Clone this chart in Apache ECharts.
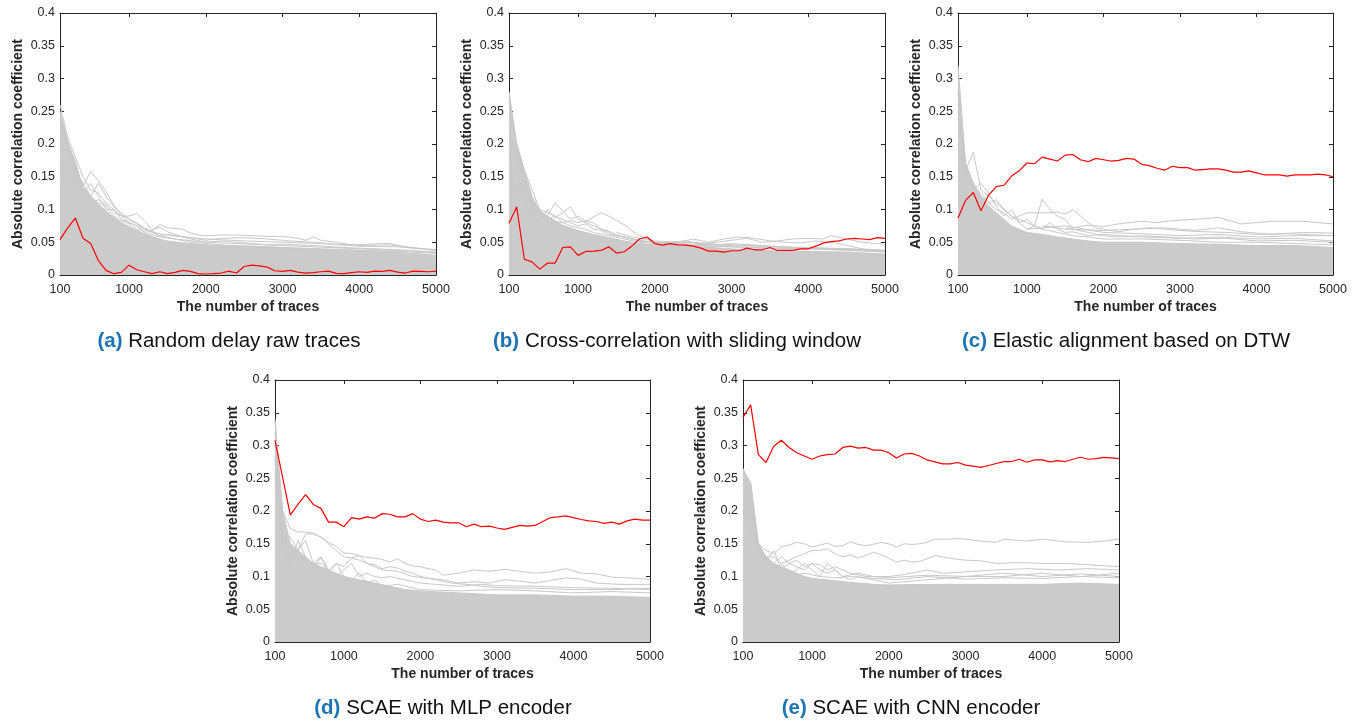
<!DOCTYPE html>
<html>
<head>
<meta charset="utf-8">
<script src="https://cdn.jsdelivr.net/npm/echarts@6/dist/echarts.min.js"></script>
<style>html,body{margin:0;padding:0;background:#fff}#c{width:1361px;height:720px}</style>
</head>
<body>
<div id="c"></div>
<script>
// ---------- data ----------
const traces = [100,200,300,400,500,600,700,800,900,1000,1100,1200,1300,1400,1500,1600,1700,1800,1900,2000,
  2100,2200,2300,2400,2500,2600,2700,2800,2900,3000,3100,3200,3300,3400,3500,3600,3700,3800,3900,4000,
  4100,4200,4300,4400,4500,4600,4700,4800,4900,5000];
const xTickValues = [100,1000,2000,3000,4000,5000];
const yTickValues = [0,0.05,0.1,0.15,0.2,0.25,0.3,0.35,0.4];

// red = correct key guess
const redA = [0.054,0.072,0.087,0.056,0.048,0.022,0.007,0.002,0.004,0.015,
  0.008,0.005,0.002,0.005,0.002,0.004,0.007,0.0055,0.002,0.0015,
  0.002,0.003,0.006,0.003,0.013,0.015,0.014,0.012,0.0065,0.0055,
  0.007,0.0045,0.003,0.0035,0.005,0.006,0.0025,0.002,0.0035,0.005,
  0.004,0.006,0.0055,0.007,0.0045,0.003,0.006,0.0055,0.005,0.006];
const redB = [0.079,0.104,0.024,0.020,0.009,0.018,0.018,0.042,0.043,0.030,
  0.036,0.0365,0.0375,0.043,0.0335,0.0355,0.044,0.055,0.058,0.048,
  0.0457,0.048,0.046,0.0457,0.044,0.041,0.0365,0.0365,0.035,0.037,
  0.037,0.041,0.0385,0.0385,0.042,0.0375,0.0375,0.0375,0.040,0.040,
  0.044,0.049,0.051,0.052,0.055,0.056,0.055,0.054,0.057,0.056];
const redC = [0.087,0.114,0.126,0.098,0.122,0.135,0.137,0.151,0.159,0.171,
  0.170,0.180,0.177,0.174,0.183,0.184,0.176,0.173,0.178,0.176,
  0.174,0.175,0.178,0.177,0.169,0.167,0.163,0.160,0.166,0.164,
  0.164,0.160,0.161,0.162,0.162,0.160,0.157,0.157,0.159,0.156,
  0.153,0.153,0.153,0.151,0.153,0.153,0.153,0.154,0.153,0.150];
const redD = [0.308,0.251,0.194,0.210,0.225,0.210,0.204,0.183,0.183,0.176,
  0.190,0.1875,0.191,0.189,0.196,0.195,0.191,0.191,0.196,0.1875,
  0.184,0.186,0.183,0.182,0.182,0.176,0.180,0.176,0.177,0.174,
  0.172,0.175,0.178,0.177,0.178,0.184,0.190,0.191,0.1925,0.190,
  0.187,0.185,0.184,0.181,0.183,0.180,0.185,0.1875,0.186,0.186];
const redE = [0.343,0.362,0.286,0.274,0.299,0.308,0.297,0.289,0.284,0.279,
  0.284,0.286,0.287,0.297,0.299,0.296,0.297,0.293,0.293,0.289,
  0.281,0.287,0.288,0.284,0.278,0.275,0.272,0.272,0.274,0.270,
  0.2685,0.2665,0.2695,0.2725,0.2755,0.2755,0.279,0.2745,0.278,0.278,
  0.275,0.277,0.2755,0.279,0.282,0.279,0.280,0.282,0.281,0.280];

// dense grey mass of wrong key guesses: upper edge of the solid region [traces, value]
const bandA = [[100,0.25],[200,0.205],[300,0.17],[400,0.135],[500,0.12],[600,0.108],[700,0.098],[800,0.088],[900,0.08],[1000,0.074],[1100,0.068],[1200,0.063],[1300,0.059],[1400,0.055],[1500,0.052],[1700,0.049],[2000,0.046],[2500,0.044],[3000,0.042],[3500,0.039],[4000,0.037],[4500,0.035],[5000,0.03]];
const bandB = [[100,0.28],[200,0.2],[300,0.16],[400,0.12],[500,0.098],[600,0.09],[700,0.083],[800,0.076],[900,0.072],[1000,0.068],[1200,0.062],[1400,0.057],[1600,0.052],[1800,0.048],[2000,0.046],[2500,0.044],[3000,0.04],[3500,0.037],[4000,0.036],[4500,0.035],[5000,0.032]];
const bandC = [[100,0.32],[200,0.17],[300,0.14],[400,0.12],[500,0.105],[600,0.095],[700,0.085],[800,0.075],[900,0.07],[1000,0.065],[1200,0.062],[1400,0.058],[1600,0.055],[1800,0.052],[2000,0.05],[2500,0.05],[3000,0.048],[3500,0.047],[4000,0.045],[4500,0.045],[5000,0.042]];
const bandD = [[100,0.34],[200,0.2],[300,0.15],[400,0.14],[500,0.13],[600,0.12],[700,0.115],[800,0.11],[900,0.105],[1000,0.1],[1200,0.095],[1400,0.09],[1600,0.085],[1800,0.08],[2000,0.078],[2500,0.075],[3000,0.072],[3500,0.072],[4000,0.07],[4500,0.07],[5000,0.068]];
const bandE = [[100,0.265],[200,0.24],[300,0.15],[400,0.13],[500,0.12],[600,0.115],[700,0.11],[800,0.105],[900,0.1],[1000,0.097],[1200,0.095],[1400,0.092],[1600,0.09],[1800,0.088],[2000,0.087],[2500,0.088],[3000,0.088],[3500,0.088],[4000,0.088],[4500,0.09],[5000,0.088]];

// individual grey traces standing out of the mass [traces, value]
const greyA = [
  [[100,0.2],[200,0.19],[300,0.165],[400,0.136],[500,0.158],[600,0.144],[700,0.127],[800,0.107],[900,0.092],[1000,0.085],[1100,0.08],[1200,0.072],[1300,0.066],[1400,0.06],[1500,0.058],[1600,0.055],[1800,0.05],[2000,0.048],[2300,0.045],[2600,0.044],[3000,0.042],[3500,0.04],[4000,0.038],[4500,0.036],[5000,0.033]],
  [[100,0.26],[200,0.21],[300,0.18],[400,0.15],[500,0.13],[600,0.125],[700,0.11],[800,0.1],[900,0.09],[1000,0.09],[1100,0.094],[1200,0.083],[1300,0.069],[1400,0.073],[1500,0.066],[1600,0.062],[1700,0.058],[1800,0.055],[2000,0.05],[2200,0.052],[2400,0.05],[2600,0.048],[2800,0.046],[3000,0.047],[3400,0.045],[3800,0.042],[4200,0.04],[4600,0.038],[5000,0.034]],
  [[100,0.22],[200,0.2],[300,0.16],[400,0.14],[500,0.12],[600,0.11],[700,0.105],[800,0.09],[900,0.083],[1000,0.078],[1100,0.07],[1200,0.067],[1300,0.068],[1400,0.077],[1500,0.072],[1600,0.071],[1700,0.07],[1800,0.064],[1900,0.061],[2000,0.06],[2200,0.061],[2400,0.061],[2600,0.06],[2800,0.059],[3000,0.059],[3200,0.056],[3300,0.053],[3400,0.058],[3500,0.053],[3700,0.05],[3900,0.046],[4100,0.047],[4300,0.048],[4400,0.048],[4500,0.045],[4700,0.041],[5000,0.039]],
  [[100,0.15],[200,0.17],[300,0.14],[400,0.128],[500,0.12],[600,0.14],[700,0.12],[800,0.104],[900,0.095],[1000,0.085],[1100,0.078],[1200,0.07],[1300,0.065],[1400,0.06],[1500,0.062],[1600,0.06],[1800,0.057],[2000,0.053],[2200,0.056],[2500,0.057],[2800,0.055],[3100,0.052],[3400,0.05],[3700,0.047],[4000,0.045],[4400,0.046],[4700,0.042],[5000,0.037]],
  [[100,0.24],[200,0.2],[300,0.175],[400,0.125],[500,0.14],[600,0.12],[700,0.1],[800,0.1],[900,0.085],[1000,0.08],[1100,0.075],[1200,0.065],[1300,0.062],[1400,0.058],[1600,0.055],[2000,0.05],[3000,0.045],[4000,0.04],[5000,0.035]],
  [[100,0.18],[200,0.15],[300,0.15],[400,0.13],[500,0.11],[600,0.115],[700,0.108],[800,0.095],[900,0.09],[1000,0.08],[1200,0.07],[1400,0.063],[1700,0.058],[2000,0.055],[2500,0.052],[3000,0.05],[3500,0.048],[4000,0.044],[4500,0.043],[5000,0.038]]
];
const greyB = [
  [[100,0.2],[200,0.19],[300,0.15],[400,0.1],[500,0.096],[600,0.09],[700,0.11],[800,0.098],[900,0.085],[1000,0.09],[1100,0.082],[1200,0.08],[1300,0.07],[1400,0.065],[1500,0.06],[1600,0.058],[1800,0.052],[2000,0.05],[2300,0.048],[2600,0.045],[3000,0.043],[3500,0.04],[4000,0.04],[4500,0.038],[5000,0.035]],
  [[100,0.18],[200,0.16],[300,0.12],[400,0.09],[500,0.08],[600,0.1],[700,0.088],[800,0.095],[900,0.104],[1000,0.085],[1100,0.08],[1200,0.075],[1300,0.07],[1400,0.067],[1500,0.062],[1600,0.058],[1700,0.055],[1800,0.053],[2000,0.05],[2200,0.048],[2500,0.05],[2800,0.047],[3200,0.045],[3600,0.043],[4000,0.041],[4500,0.04],[5000,0.036]],
  [[100,0.14],[200,0.13],[300,0.11],[400,0.095],[500,0.09],[600,0.085],[700,0.082],[800,0.08],[900,0.083],[1000,0.08],[1100,0.082],[1200,0.088],[1300,0.095],[1400,0.09],[1500,0.083],[1600,0.077],[1700,0.068],[1800,0.06],[1900,0.055],[2000,0.05],[2200,0.049],[2400,0.051],[2600,0.048],[2800,0.046],[3000,0.048],[3400,0.045],[3800,0.042],[4200,0.04],[4600,0.039],[5000,0.037]],
  [[1500,0.065],[1700,0.058],[2000,0.052],[2300,0.05],[2500,0.055],[2700,0.05],[2900,0.055],[3100,0.058],[3300,0.056],[3500,0.052],[3700,0.05],[3900,0.049],[4100,0.052],[4300,0.05],[4500,0.045],[4700,0.04],[5000,0.037]],
  [[2000,0.048],[2200,0.05],[2400,0.052],[2600,0.047],[2800,0.05],[3000,0.053],[3200,0.056],[3400,0.05],[3600,0.052],[3800,0.055],[4000,0.056],[4200,0.055],[4300,0.06],[4500,0.055],[4700,0.05],[5000,0.047]],
  [[100,0.27],[200,0.2],[300,0.16],[400,0.13],[500,0.1],[600,0.095],[700,0.09],[800,0.085],[900,0.08],[1000,0.075],[1100,0.078],[1200,0.07],[1300,0.068],[1400,0.062],[1600,0.058],[1800,0.052],[2000,0.05],[2500,0.047],[3000,0.045],[4000,0.042],[5000,0.038]],
  [[100,0.22],[200,0.18],[300,0.14],[400,0.11],[500,0.1],[600,0.085],[700,0.09],[800,0.08],[900,0.075],[1000,0.072],[1100,0.07],[1200,0.065],[1400,0.06],[1600,0.055],[1800,0.05],[2000,0.048],[2500,0.045],[3000,0.043],[4000,0.04],[5000,0.036]]
];
const greyC = [
  [[100,0.15],[200,0.16],[300,0.187],[400,0.13],[500,0.12],[600,0.11],[700,0.1],[800,0.09],[900,0.085],[1000,0.08],[1100,0.075],[1200,0.07],[1400,0.065],[1600,0.06],[1800,0.058],[2000,0.055],[2500,0.055],[3000,0.053],[3500,0.05],[4000,0.05],[4500,0.048],[5000,0.046]],
  [[100,0.2],[200,0.15],[300,0.13],[400,0.14],[500,0.125],[600,0.105],[700,0.09],[800,0.1],[900,0.08],[1000,0.085],[1100,0.075],[1200,0.116],[1300,0.1],[1400,0.09],[1500,0.085],[1600,0.07],[1800,0.065],[2000,0.06],[2200,0.058],[2500,0.06],[2800,0.058],[3200,0.055],[3600,0.056],[4000,0.052],[4500,0.053],[5000,0.05]],
  [[100,0.25],[200,0.17],[300,0.14],[400,0.12],[500,0.11],[600,0.1],[700,0.095],[800,0.085],[900,0.09],[1000,0.095],[1100,0.095],[1200,0.095],[1300,0.095],[1400,0.096],[1500,0.093],[1600,0.1],[1700,0.09],[1800,0.08],[1900,0.072],[2000,0.07],[2200,0.066],[2400,0.07],[2600,0.072],[2800,0.07],[3000,0.068],[3300,0.066],[3600,0.065],[4000,0.062],[4400,0.063],[5000,0.06]],
  [[1500,0.07],[1800,0.076],[2000,0.074],[2200,0.078],[2500,0.082],[2700,0.08],[2900,0.083],[3200,0.085],[3500,0.088],[3800,0.078],[4000,0.08],[4200,0.082],[4600,0.082],[5000,0.078]],
  [[1200,0.075],[1500,0.07],[2000,0.068],[2400,0.07],[2800,0.072],[3200,0.068],[3500,0.072],[3800,0.066],[4200,0.062],[4600,0.065],[5000,0.064]],
  [[1000,0.07],[1500,0.075],[2000,0.065],[2500,0.063],[3000,0.06],[3500,0.062],[4000,0.058],[4500,0.06],[5000,0.06]],
  [[100,0.28],[200,0.14],[300,0.135],[400,0.125],[500,0.11],[600,0.115],[700,0.1],[800,0.09],[900,0.08],[1000,0.07],[1100,0.075],[1200,0.07],[1300,0.08],[1400,0.07],[1500,0.065],[1600,0.066],[1800,0.06],[2000,0.062],[2500,0.058],[3000,0.056],[3500,0.058],[4000,0.055],[4500,0.056],[5000,0.052]]
];
const greyD = [
  [[100,0.32],[200,0.2],[300,0.173],[400,0.168],[500,0.168],[600,0.166],[700,0.16],[800,0.152],[900,0.146],[1000,0.136],[1100,0.135],[1200,0.132],[1300,0.129],[1400,0.128],[1500,0.126],[1600,0.122],[1700,0.127],[1800,0.12],[1900,0.116],[2000,0.115],[2100,0.112],[2200,0.11],[2300,0.102],[2500,0.105],[2700,0.11],[2900,0.108],[3100,0.111],[3300,0.108],[3500,0.105],[3700,0.107],[3900,0.112],[4100,0.105],[4300,0.104],[4500,0.099],[4700,0.098],[5000,0.096]],
  [[100,0.3],[200,0.17],[300,0.16],[400,0.14],[500,0.165],[600,0.165],[700,0.16],[800,0.15],[900,0.14],[1000,0.13],[1100,0.128],[1200,0.125],[1300,0.12],[1400,0.115],[1500,0.11],[1700,0.108],[1900,0.1],[2100,0.097],[2300,0.095],[2500,0.09],[2700,0.092],[2900,0.09],[3100,0.095],[3300,0.093],[3500,0.09],[3700,0.094],[3900,0.098],[4100,0.096],[4300,0.09],[4600,0.088],[5000,0.088]],
  [[100,0.26],[200,0.16],[300,0.14],[400,0.13],[500,0.125],[600,0.12],[700,0.12],[800,0.11],[900,0.12],[1000,0.115],[1100,0.128],[1200,0.132],[1300,0.12],[1400,0.118],[1500,0.112],[1600,0.115],[1700,0.113],[1800,0.108],[1900,0.105],[2000,0.1],[2200,0.095],[2400,0.09],[2600,0.088],[2800,0.085],[3000,0.083],[3500,0.082],[4000,0.08],[4500,0.08],[5000,0.082]],
  [[100,0.25],[200,0.15],[300,0.12],[400,0.155],[500,0.13],[600,0.11],[700,0.13],[800,0.105],[900,0.12],[1000,0.1],[1100,0.095],[1200,0.105],[1300,0.09],[1400,0.095],[1500,0.085],[1700,0.088],[2000,0.08],[2500,0.078],[3000,0.08],[3500,0.078],[4000,0.075],[4500,0.077],[5000,0.075]],
  [[100,0.28],[200,0.14],[300,0.13],[400,0.14],[500,0.155],[600,0.12],[700,0.13],[800,0.11],[900,0.1],[1000,0.11],[1100,0.12],[1200,0.1],[1300,0.105],[1400,0.1],[1500,0.098],[1600,0.1],[1800,0.095],[2000,0.09],[2200,0.088],[2500,0.085],[2800,0.088],[3000,0.086],[3500,0.085],[4000,0.083],[4500,0.082],[5000,0.08]]
];
const greyE = [
  [[100,0.26],[200,0.245],[300,0.15],[400,0.14],[500,0.135],[600,0.145],[700,0.148],[800,0.152],[900,0.15],[1000,0.145],[1100,0.148],[1200,0.151],[1300,0.146],[1400,0.147],[1500,0.153],[1600,0.149],[1700,0.147],[1800,0.149],[1900,0.152],[2000,0.15],[2100,0.145],[2200,0.15],[2300,0.149],[2400,0.15],[2500,0.152],[2600,0.157],[2800,0.157],[2900,0.158],[3000,0.157],[3200,0.154],[3400,0.152],[3500,0.157],[3600,0.156],[3800,0.154],[4000,0.157],[4300,0.153],[4600,0.152],[4800,0.154],[5000,0.157]],
  [[100,0.2],[200,0.17],[300,0.14],[400,0.13],[500,0.13],[600,0.12],[700,0.125],[800,0.13],[900,0.135],[1000,0.14],[1100,0.14],[1200,0.142],[1300,0.135],[1400,0.13],[1500,0.133],[1600,0.128],[1700,0.132],[1800,0.137],[1900,0.133],[2000,0.128],[2100,0.122],[2200,0.125],[2300,0.122],[2400,0.123],[2500,0.127],[2600,0.132],[2700,0.13],[2800,0.128],[2900,0.126],[3000,0.125],[3200,0.124],[3400,0.12],[3600,0.121],[3800,0.121],[4000,0.12],[4300,0.12],[4600,0.118],[5000,0.115]],
  [[100,0.22],[200,0.18],[300,0.14],[400,0.125],[500,0.14],[600,0.11],[700,0.12],[800,0.125],[900,0.115],[1000,0.12],[1100,0.118],[1200,0.11],[1300,0.115],[1400,0.11],[1500,0.105],[1700,0.1],[2000,0.1],[2200,0.103],[2500,0.11],[2700,0.105],[3000,0.107],[3400,0.11],[3800,0.112],[4200,0.11],[4600,0.112],[5000,0.11]],
  [[100,0.24],[200,0.2],[300,0.15],[400,0.13],[500,0.11],[600,0.12],[700,0.105],[800,0.11],[900,0.12],[1000,0.11],[1100,0.1],[1200,0.12],[1300,0.11],[1400,0.1],[1500,0.095],[1600,0.1],[1800,0.095],[2000,0.09],[2500,0.095],[3000,0.1],[3500,0.1],[4000,0.105],[4500,0.1],[5000,0.105]],
  [[300,0.13],[400,0.12],[500,0.115],[700,0.1],[900,0.105],[1100,0.1],[1300,0.098],[1500,0.1],[1800,0.097],[2100,0.095],[2500,0.1],[3000,0.096],[3500,0.098],[4000,0.097],[4500,0.1],[5000,0.098]],
  [[100,0.25],[200,0.22],[300,0.14],[400,0.13],[500,0.12],[600,0.13],[700,0.12],[800,0.115],[900,0.11],[1000,0.12],[1100,0.11],[1200,0.105],[1300,0.11],[1400,0.1],[1600,0.105],[1800,0.1],[2000,0.098],[2500,0.102],[3000,0.1],[3500,0.105],[4000,0.1],[4500,0.104],[5000,0.1]]
];

const captions = [
  {tag:'(a)', text:'Random delay raw traces'},
  {tag:'(b)', text:'Cross-correlation with sliding window'},
  {tag:'(c)', text:'Elastic alignment based on DTW'},
  {tag:'(d)', text:'SCAE with MLP encoder'},
  {tag:'(e)', text:'SCAE with CNN encoder'}
];

// ---------- layout ----------
const FONT = '"Liberation Sans", Arial, Helvetica, sans-serif';
const AXC = '#262626';
const panels = [
  {grid:{left:60, top:13, width:376, height:262}, red:redA, band:bandA, grey:greyA, cap:[229,341]},
  {grid:{left:509, top:13, width:376, height:262}, red:redB, band:bandB, grey:greyB, cap:[677,341]},
  {grid:{left:958, top:13, width:375, height:262}, red:redC, band:bandC, grey:greyC, cap:[1126,341]},
  {grid:{left:275, top:380, width:375, height:262}, red:redD, band:bandD, grey:greyD, cap:[443,708]},
  {grid:{left:743, top:380, width:376, height:262}, red:redE, band:bandE, grey:greyE, cap:[911,708]}
];

const grids = [], xAxes = [], yAxes = [], series = [], graphics = [];
const tickStyle = {show:true, inside:true, length:4, lineStyle:{color:AXC, width:1}};
const lineStyleAx = {show:true, onZero:false, lineStyle:{color:AXC, width:1}};

panels.forEach((p, i) => {
  grids.push(Object.assign({show:false, containLabel:false}, p.grid));
  xAxes.push({
    gridIndex:i, type:'value', min:100, max:5000, position:'bottom',
    axisLine:lineStyleAx,
    axisTick:Object.assign({customValues:xTickValues}, tickStyle),
    axisLabel:{customValues:xTickValues, color:AXC, fontSize:12.5, fontFamily:FONT, margin:8,
      formatter: v => String(v)},
    splitLine:{show:false},
    name:'The number of traces', nameLocation:'middle', nameGap:25,
    nameTextStyle:{fontWeight:'bold', fontSize:14, color:AXC, fontFamily:FONT}
  });
  xAxes.push({
    gridIndex:i, type:'value', min:100, max:5000, position:'top',
    axisLine:lineStyleAx,
    axisTick:Object.assign({customValues:xTickValues}, tickStyle),
    axisLabel:{show:false}, splitLine:{show:false}
  });
  yAxes.push({
    gridIndex:i, type:'value', min:0, max:0.4, interval:0.05, position:'left',
    axisLine:lineStyleAx, axisTick:tickStyle,
    axisLabel:{color:AXC, fontSize:12.5, fontFamily:FONT, margin:5,
      formatter: v => String(parseFloat(v.toFixed(2)))},
    splitLine:{show:false},
    name:'Absolute correlation coefficient', nameLocation:'middle', nameGap:35,
    nameTextStyle:{fontWeight:'bold', fontSize:14, color:AXC, fontFamily:FONT}
  });
  yAxes.push({
    gridIndex:i, type:'value', min:0, max:0.4, interval:0.05, position:'right',
    axisLine:lineStyleAx, axisTick:tickStyle,
    axisLabel:{show:false}, splitLine:{show:false}
  });
  const xi = 2*i, yi = 2*i;
  series.push({
    type:'line', xAxisIndex:xi, yAxisIndex:yi, data:p.band, symbol:'none', silent:true,
    lineStyle:{color:'#c8c8c8', width:1}, areaStyle:{color:'#cbcbcb', opacity:1}, z:1
  });
  p.grey.forEach(g => series.push({
    type:'line', xAxisIndex:xi, yAxisIndex:yi, data:g, symbol:'none', silent:true,
    lineStyle:{color:'#c8c8c8', width:1}, z:2
  }));
  series.push({
    type:'line', xAxisIndex:xi, yAxisIndex:yi, data:traces.map((t,k)=>[t,p.red[k]]),
    symbol:'none', silent:true, lineStyle:{color:'#ff0000', width:1.2}, z:5
  });
  const c = captions[i];
  graphics.push({
    type:'text', x:p.cap[0], y:p.cap[1],
    style:{
      text:'{t|' + c.tag + '} {n|' + c.text + '}',
      align:'center', verticalAlign:'middle',
      rich:{
        t:{fontWeight:'bold', fill:'#1b75b4', fontSize:20.5, fontFamily:FONT},
        n:{fill:'#111', fontSize:20.5, fontFamily:FONT}
      },
      fontSize:20.5, fontFamily:FONT
    }
  });
});

const chart = echarts.init(document.getElementById('c'), null, {renderer:'canvas'});
chart.setOption({
  animation:false,
  backgroundColor:'#fff',
  grid:grids, xAxis:xAxes, yAxis:yAxes, series:series, graphic:graphics
});
</script>
</body>
</html>
